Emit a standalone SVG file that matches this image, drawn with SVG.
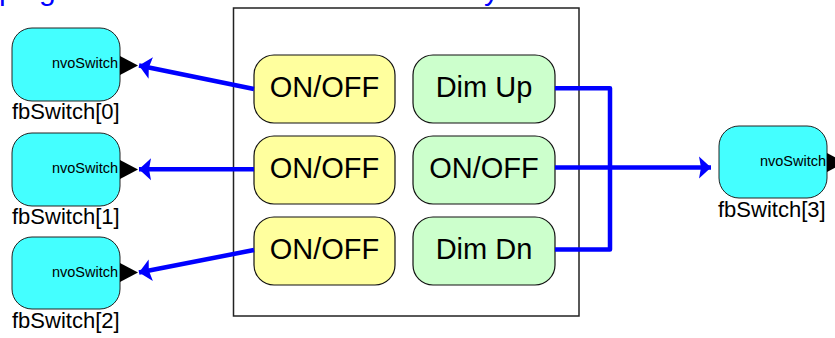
<svg xmlns="http://www.w3.org/2000/svg" width="835" height="338" viewBox="0 0 835 338">
  <defs>
    <style>
      .fb { fill: #44FFFF; stroke: #222; stroke-width: 1; }
      .port { fill: #000; }
      .pname { font-family: "Liberation Sans", Arial, sans-serif; font-size: 14.5px; fill: #000; text-anchor: end; }
      .fname { font-family: "Liberation Sans", Arial, sans-serif; font-size: 22px; fill: #000; }
      .sw { fill: #FFFF9E; stroke: #111; stroke-width: 1.2; }
      .dim { fill: #CCFFCC; stroke: #111; stroke-width: 1.2; }
      .btn { font-family: "Liberation Sans", Arial, sans-serif; font-size: 29px; fill: #000; text-anchor: middle; }
      .wire { fill: none; stroke: #0000FF; stroke-width: 4.5; stroke-linejoin: round; }
      .title { font-family: "Liberation Sans", Arial, sans-serif; font-size: 30px; fill: #0000FF; }
    </style>
    <marker id="arr" markerUnits="userSpaceOnUse" markerWidth="14" markerHeight="24" refX="12" refY="11" orient="auto" viewBox="0 0 14 22">
      <path d="M12,11 L0,0 L2,11 L0,22 Z" fill="#0000FF"/>
    </marker>
  </defs>

  <g id="title-fragment">
    <text class="title" x="-1" y="0">ping</text>
    <text class="title" x="484" y="0">y</text>
  </g>

  <g id="device">
    <rect x="233.5" y="8" width="345.5" height="308" fill="#fff" stroke="#222" stroke-width="1.5"/>
  </g>

  <g id="btn-onoff-0">
    <rect class="sw" x="254" y="55" width="141" height="68" rx="20"/>
    <text class="btn" x="324.5" y="97">ON/OFF</text>
  </g>
  <g id="btn-onoff-1">
    <rect class="sw" x="254" y="136" width="141" height="68" rx="20"/>
    <text class="btn" x="324.5" y="178">ON/OFF</text>
  </g>
  <g id="btn-onoff-2">
    <rect class="sw" x="254" y="217" width="141" height="68" rx="20"/>
    <text class="btn" x="324.5" y="259">ON/OFF</text>
  </g>
  <g id="btn-dimup">
    <rect class="dim" x="413" y="55" width="142" height="68" rx="20"/>
    <text class="btn" x="484" y="97">Dim Up</text>
  </g>
  <g id="btn-onoff-3">
    <rect class="dim" x="413" y="136" width="142" height="68" rx="20"/>
    <text class="btn" x="484" y="178">ON/OFF</text>
  </g>
  <g id="btn-dimdn">
    <rect class="dim" x="413" y="217" width="142" height="68" rx="20"/>
    <text class="btn" x="484" y="259">Dim Dn</text>
  </g>

  <g id="fbSwitch0">
    <rect class="fb" x="12" y="28" width="108" height="73" rx="20"/>
    <text class="pname" x="118" y="68">nvoSwitch</text>
    <path class="port" d="M120,56 L138,65.5 L120,75 Z"/>
    <text class="fname" x="12" y="119">fbSwitch[0]</text>
  </g>
  <g id="fbSwitch1">
    <rect class="fb" x="12" y="133" width="108" height="73" rx="20"/>
    <text class="pname" x="118" y="173">nvoSwitch</text>
    <path class="port" d="M120,160 L138,169.5 L120,179 Z"/>
    <text class="fname" x="12" y="224">fbSwitch[1]</text>
  </g>
  <g id="fbSwitch2">
    <rect class="fb" x="12" y="237" width="108" height="72" rx="20"/>
    <text class="pname" x="118" y="277">nvoSwitch</text>
    <path class="port" d="M120,263 L138,272.5 L120,282 Z"/>
    <text class="fname" x="12" y="328">fbSwitch[2]</text>
  </g>
  <g id="fbSwitch3">
    <rect class="fb" x="719" y="126" width="108" height="72" rx="20"/>
    <text class="pname" x="826" y="166">nvoSwitch</text>
    <path class="port" d="M827,153 L845,162.5 L827,172 Z"/>
    <text class="fname" x="718" y="217">fbSwitch[3]</text>
  </g>

  <g id="connectors">
    <path class="wire" d="M254,89 L139,65.5" marker-end="url(#arr)"/>
    <path class="wire" d="M254,169.3 L139,169.3" marker-end="url(#arr)"/>
    <path class="wire" d="M254,250 L139,272.5" marker-end="url(#arr)"/>
    <path class="wire" d="M555,88.3 L610,88.3 L610,249.5 L555,249.5"/>
    <path class="wire" d="M555,167.5 L711,167.5" marker-end="url(#arr)"/>
  </g>
</svg>
